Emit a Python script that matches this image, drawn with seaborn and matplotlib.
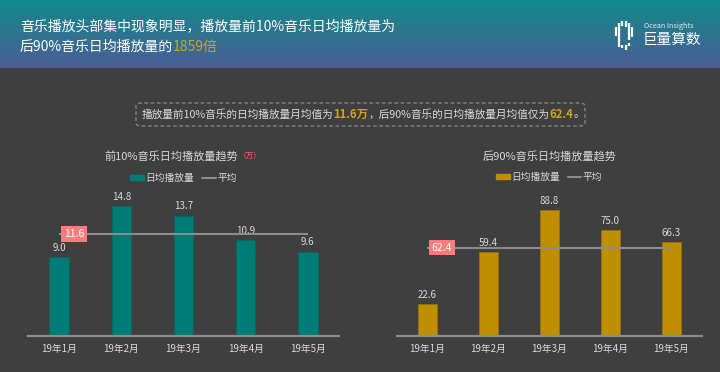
import numpy             as np
import seaborn           as sns
import matplotlib.pyplot as plt
from matplotlib.patches  import Patch, FancyBboxPatch
from matplotlib.lines    import Line2D
from matplotlib.colors   import LinearSegmentedColormap

# Data

months     = ["19年1月", "19年2月", "19年3月", "19年4月", "19年5月"]
top10_vals = [9.0, 14.8, 13.7, 10.9, 9.6]
rest_vals  = [22.6, 59.4, 88.8, 75.0, 66.3]
ratio      = "1859倍"

# Style

BG     = "#3f3f3f"
TEAL   = "#007b76"
GOLD   = "#bf8f00"
LIGHT  = "#d9d9d9"
GRAY   = "#8c8c8c"
SALMON = "#ff7b7b"

sns.set_theme(style = "dark", rc = {"figure.facecolor": BG, "axes.facecolor": BG})
plt.rcParams["font.family"] = ["Noto Sans CJK SC", "DejaVu Sans"]

W, H = 720, 372
fig  = plt.figure(figsize = (7.2, 3.72), dpi = 100)
renderer = fig.canvas.get_renderer()

def px(x, y):
    # pixel position from top-left -> figure fraction
    return x / W, 1 - y / H

def segments(x, y, parts, ha = "left"):
    """parts: list of (text, color, size, weight); placed one after another"""
    texts = []
    for s, color, size, weight in parts:
        t = fig.text(0, 0, s, color = color, fontsize = size, fontweight = weight, va = "center")
        texts.append(t)
    widths = [t.get_window_extent(renderer).width for t in texts]
    start  = x - sum(widths) / 2 if ha == "center" else x
    for t, w in zip(texts, widths):
        t.set_position(px(start, y))
        start += w

# Header gradient

head = fig.add_axes([0, 1 - 68 / H, 1, 68 / H])
cmap = LinearSegmentedColormap.from_list("head", ["#118b89", "#4b5d97"])
head.imshow(np.linspace(0, 1, 100).reshape(-1, 1), aspect = "auto", cmap = cmap, extent = (0, 1, 0, 1))
head.set_axis_off()

segments(20, 26, [("音乐播放头部集中现象明显，播放量前10%音乐日均播放量为", "white", 10, "normal")])
segments(20, 47, [("后90%音乐日均播放量的", "white", 10, "normal"), (ratio, "#d4a020", 10, "normal")])

# Logo
logo = fig.add_axes([614 / W, 1 - 51 / H, 20 / W, 31 / H])
logo.set_xlim(0, 20)
logo.set_ylim(0, 31)
logo.set_axis_off()
logo.patch.set_alpha(0)
for xs, segs in [(2, [(15, 24)]), (5, [(4, 28)]), (8, [(3, 6), (25, 30)]),
                 (12, [(1, 6), (24, 30)]), (15, [(11, 28), (5, 8)]), (18, [(14, 24)])]:
    for y0, y1 in segs:
        logo.plot([xs, xs], [y0, y1], color = "white", lw = 1.6, solid_capstyle = "butt")
fig.text(*px(644, 26), "Ocean Insights", color = "#e0e8f0", fontsize = 5.2, va = "center")
fig.text(*px(643, 40), "巨量算数", color = "white", fontsize = 10.5, va = "center")

# Summary box

box = FancyBboxPatch(px(136, 126), 449 / W, 23 / H, boxstyle = "round,pad=0,rounding_size=0.008",
                     transform = fig.transFigure, fill = False, ec = "#8a8a8a", lw = 0.9, ls = (0, (3, 2)))
fig.patches.append(box)
mean_top  = np.mean(top10_vals)
mean_rest = np.mean(rest_vals)
segments(142, 114.5, [("播放量前10%音乐的日均播放量月均值为", LIGHT, 7.7, "normal"),
                      (f"{mean_top:.1f}万", "#d4a020", 8.2, "bold"),
                      ("，后90%音乐的日均播放量月均值仅为", LIGHT, 7.7, "normal"),
                      (f"{mean_rest:.1f}", "#d4a020", 8.2, "bold"),
                      ("。", LIGHT, 7.7, "normal")])

# Bar panels

def panel(rect, values, color, edge, ymax, title_parts, title_x):
    ax = fig.add_axes(rect)
    sns.barplot(x = months, y = values, color = color, saturation = 1, width = 0.31,
                edgecolor = edge, linewidth = 0.6, ax = ax)
    ax.set_ylim(0, ymax)
    ax.set_xlim(-0.5, len(months) - 0.5)
    ax.bar_label(ax.containers[0], fmt = "%.1f", padding = 3, color = LIGHT, fontsize = 7)
    avg = np.mean(values)
    ax.hlines(avg, 0, len(months) - 1, color = GRAY, lw = 1.5, zorder = 5)
    ax.text(0.24, avg, f"{avg:.1f}", ha = "center", va = "center", color = "white", fontsize = 7.5, zorder = 6,
            bbox = dict(boxstyle = "square,pad=0.25", fc = SALMON, ec = "none"))
    for side in ["top", "right", "left"]:
        ax.spines[side].set_visible(False)
    ax.spines["bottom"].set_color(GRAY)
    ax.spines["bottom"].set_linewidth(1.6)
    ax.set_yticks([])
    ax.set_xlabel("")
    ax.set_ylabel("")
    ax.tick_params(axis = "x", length = 0, pad = 6, labelsize = 7, labelcolor = LIGHT)
    handles = [Patch(color = color), Line2D([], [], color = GRAY, lw = 1.5)]
    ax.legend(handles, ["日均播放量", "平均"], loc = "center", bbox_to_anchor = (0.5, 1.125), ncol = 2,
              frameon = False, fontsize = 7, labelcolor = LIGHT, handlelength = 1.4, handleheight = 0.5,
              handletextpad = 0.15, columnspacing = 0.8)
    segments(title_x, 156, title_parts, ha = "center")
    return ax

panel([28 / W, 36.3 / H, 311 / W, 140.2 / H], top10_vals, TEAL, "#006b66", 16,
      [("前10%音乐日均播放量趋势", LIGHT, 8, "normal"), ("（万）", "#ff6060", 5.5, "normal")], 183)
panel([396.7 / W, 36 / H, 305 / W, 141.5 / H], rest_vals, GOLD, "#9a7300", 100,
      [("后90%音乐日均播放量趋势", LIGHT, 8, "normal")], 550)

fig.savefig("out.png", dpi = 100, facecolor = BG)
